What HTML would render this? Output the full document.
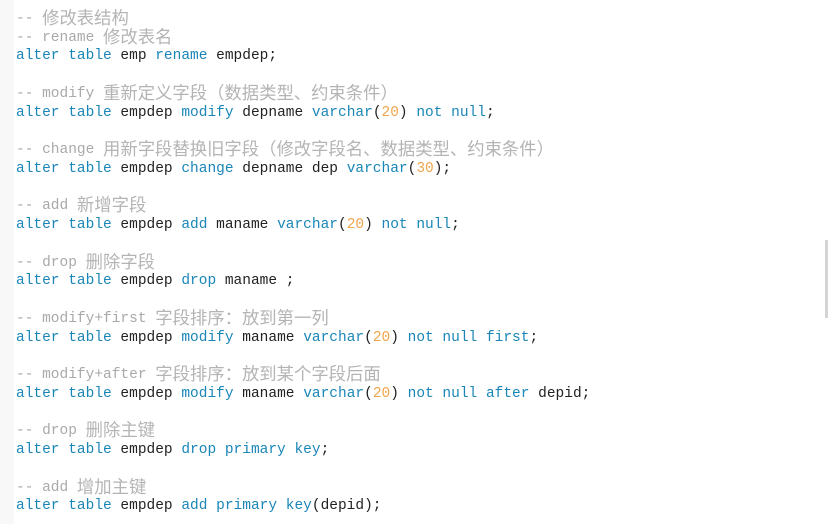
<!DOCTYPE html>
<html>
<head>
<meta charset="utf-8">
<style>
html,body{margin:0;padding:0;background:#fff;overflow:hidden;}
#p{position:relative;width:828px;height:524px;overflow:hidden;background:#fff;}
#g{position:absolute;left:0;top:0;width:14px;height:524px;background:#f8f8f8;}
#s{position:absolute;left:825px;top:240px;width:3px;height:78px;background:#d4d4d4;}
pre{position:absolute;left:16px;top:9.75px;margin:0;font:14.5px/18.75px "Liberation Mono",monospace;color:#222;filter:blur(.35px);}
.k{color:#1a86b8;}
.n{color:#f0a64e;}
.c{color:#a9a9a9;}
.c i{font:normal 17.35px/0 "Noto Sans CJK SC",sans-serif;color:#b4b4b4;position:relative;top:2px;}
</style>
</head>
<body>
<div id="p">
<div id="g"></div>
<div id="s"></div>
<pre><span class="c">-- <i>修改表结构</i></span>
<span class="c">-- rename <i>修改表名</i></span>
<span class="k">alter table</span> emp <span class="k">rename</span> empdep;

<span class="c">-- modify <i>重新定义字段（数据类型、约束条件）</i></span>
<span class="k">alter table</span> empdep <span class="k">modify</span> depname <span class="k">varchar</span>(<span class="n">20</span>) <span class="k">not null</span>;

<span class="c">-- change <i>用新字段替换旧字段（修改字段名、数据类型、约束条件）</i></span>
<span class="k">alter table</span> empdep <span class="k">change</span> depname dep <span class="k">varchar</span>(<span class="n">30</span>);

<span class="c">-- add <i>新增字段</i></span>
<span class="k">alter table</span> empdep <span class="k">add</span> maname <span class="k">varchar</span>(<span class="n">20</span>) <span class="k">not null</span>;

<span class="c">-- drop <i>删除字段</i></span>
<span class="k">alter table</span> empdep <span class="k">drop</span> maname ;

<span class="c">-- modify+first <i>字段排序：放到第一列</i></span>
<span class="k">alter table</span> empdep <span class="k">modify</span> maname <span class="k">varchar</span>(<span class="n">20</span>) <span class="k">not null first</span>;

<span class="c">-- modify+after <i>字段排序：放到某个字段后面</i></span>
<span class="k">alter table</span> empdep <span class="k">modify</span> maname <span class="k">varchar</span>(<span class="n">20</span>) <span class="k">not null after</span> depid;

<span class="c">-- drop <i>删除主键</i></span>
<span class="k">alter table</span> empdep <span class="k">drop primary key</span>;

<span class="c">-- add <i>增加主键</i></span>
<span class="k">alter table</span> empdep <span class="k">add primary key</span>(depid);</pre>
</div>
</body>
</html>
